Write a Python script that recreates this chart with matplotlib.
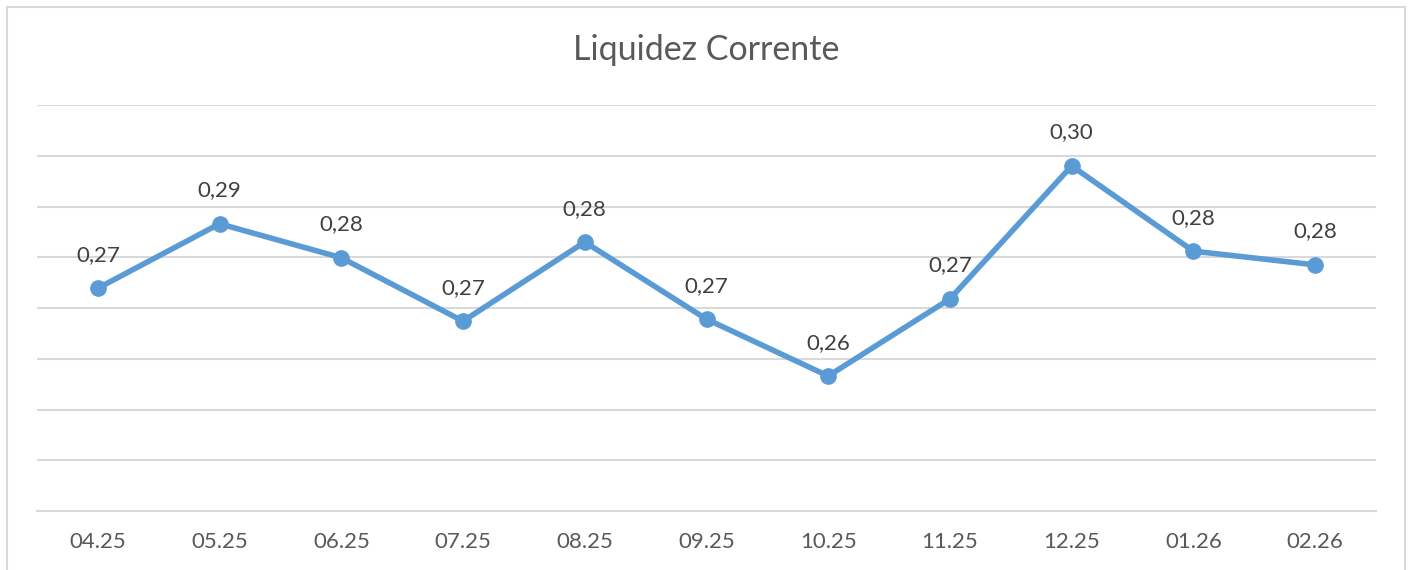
import matplotlib.pyplot as plt
from matplotlib.patches import Rectangle

months = ['04.25', '05.25', '06.25', '07.25', '08.25', '09.25',
          '10.25', '11.25', '12.25', '01.26', '02.26']
liquidez = [0.2739, 0.2866, 0.2799, 0.2674, 0.2830, 0.2678,
            0.2566, 0.2718, 0.2980, 0.2812, 0.2785]
y_ticks = [0.23, 0.24, 0.25, 0.26, 0.27, 0.28, 0.29, 0.30, 0.31]

plt.rcParams['font.family'] = ['Lato', 'DejaVu Sans']

fig = plt.figure(figsize=(14.1, 5.7), dpi=100)
ax = fig.add_axes([37 / 1410, 59 / 570, 1339 / 1410, 406 / 570])

xs = list(range(len(months)))
ax.plot(xs, liquidez, color='#5B9BD5', linewidth=4, marker='o',
        markersize=11, solid_capstyle='round', zorder=3)

# data labels above each point, comma as decimal separator
for x, v in zip(xs, liquidez):
    ax.annotate(f"{v:.2f}".replace('.', ','), xy=(x, v), xytext=(0, 24),
                textcoords='offset points', ha='center', va='center',
                fontsize=16, color='#404040')

ax.set_xlim(-0.5, len(months) - 0.5)
ax.set_ylim(y_ticks[0], y_ticks[-1])
ax.set_yticks(y_ticks)
ax.set_yticklabels([])
ax.set_xticks(xs)
ax.set_xticklabels(months, fontsize=16, color='#595959')
ax.tick_params(axis='both', length=0)
ax.tick_params(axis='x', pad=15)
ax.grid(axis='y', color='#D9D9D9', linewidth=1.5)
ax.set_axisbelow(True)
for side in ['top', 'right', 'left']:
    ax.spines[side].set_visible(False)
ax.spines['bottom'].set_color('#D9D9D9')
ax.spines['bottom'].set_linewidth(1.5)

fig.text(706 / 1410, 1 - 50 / 570, "Liquidez Corrente", ha='center',
         va='center', fontsize=24.5, color='#595959')

# light border around the chart area
fig.patches.append(Rectangle((7 / 1410, -0.05), 1398 / 1410, 1.05 - 7 / 570,
                             transform=fig.transFigure, fill=False,
                             edgecolor='#D9D9D9', linewidth=1.5))

fig.savefig('out.png', dpi=100)
